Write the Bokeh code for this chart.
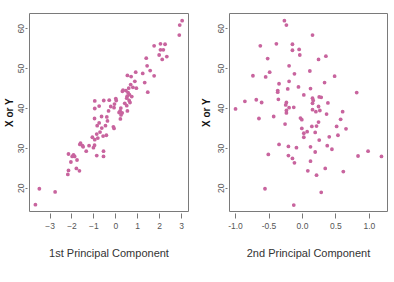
from bokeh.plotting import figure
from bokeh.layouts import row
from bokeh.models import FixedTicker, PrintfTickFormatter, Range1d
from bokeh.embed import file_html
from bokeh.resources import INLINE

pc1 = [3.03, 2.92, 2.90, 1.75, 2.04, 2.25, 2.04, 2.17, 1.98, 2.12, 2.33, 1.39, 1.43, 1.57, 1.23, 1.75,
       0.91, 0.53, 0.70, 1.32, 1.46, 0.87, 0.68, 0.78, 0.59, 0.94, 0.33, 0.46, 0.30, 0.56, 0.62, 0.52,
       0.73, 0.50, 0.61, 0.65, 0.41, 0.00, 0.02, -0.06, -0.23, -0.30, -0.55, -0.96, -0.76, -0.08, 0.23,
       0.20, 0.15, 0.29, 0.24, 0.21, 0.53, 0.50, -0.96, -0.97, -0.65, -0.33, -0.41, -0.38, -0.76, -0.47,
       -0.85, -0.64, -0.72, -0.58, -0.43, -0.11, -0.08, -0.87, -1.07, -0.82, -0.96, -1.61, -1.52, -1.64,
       -1.49, -1.35, -1.22, -1.02, -0.97, -0.87, -0.56, -0.56, -2.16, -1.93, -1.88, -1.99, -2.05, -1.77,
       -1.80, -1.66, -2.16, -2.19, -3.49, -2.77, -3.67]
y1 = [62.0, 60.9, 58.4, 55.7, 56.2, 56.1, 54.7, 54.7, 53.4, 52.3, 53.0, 52.6, 50.7, 49.5, 48.8, 48.2,
      49.1, 48.3, 48.0, 46.5, 44.1, 46.8, 46.0, 45.3, 45.1, 45.1, 44.6, 44.5, 44.3, 44.0, 43.5, 43.1,
      43.0, 42.6, 42.0, 41.5, 41.3, 42.5, 42.0, 41.1, 40.5, 42.1, 42.0, 41.9, 40.6, 40.2, 40.1,
      39.4, 39.0, 38.9, 38.4, 37.4, 39.4, 40.7, 40.0, 37.5, 38.0, 39.4, 37.9, 36.9, 36.4, 35.7,
      35.7, 35.1, 34.1, 33.1, 33.3, 35.4, 35.0, 33.6, 32.8, 32.6, 32.2, 31.3, 30.7, 31.0,
      30.4, 29.3, 30.7, 30.2, 30.8, 28.2, 29.3, 28.0, 28.6, 28.4, 28.0, 28.0, 26.6, 27.1,
      25.0, 24.4, 24.5, 23.5, 19.9, 19.1, 15.9]

pc2 = [-0.27, -0.24, 0.15, -0.63, -0.39, -0.15, -0.05, -0.15, -0.04, 0.35, 0.24, -0.52, -0.20, -0.49,
       0.11, -0.12, -0.74, -0.55, 0.48, -0.20, -0.35, 0.33, -0.06, -0.22, 0.12, -0.37, -0.37, 0.81, 0.02,
       0.25, 0.28, 0.15, 0.16, -0.36, -0.69, -0.61, -0.86, -0.24, -0.25, 0.15, 0.38, 0.24, -0.13, -0.20,
       -1.00, -0.24, -0.24, 0.15, 0.20, 0.26, 0.60, 0.36, -0.43, -0.65, -0.03, -0.01, 0.57, 0.24, 0.21,
       0.14, -0.26, -0.01, 0.51, 0.65, 0.07, 0.02, 0.19, 0.02, 0.40, 0.53, 0.25, -0.35, -0.21, -0.09,
       0.12, 0.37, 0.44, 0.19, -0.51, -0.21, -0.15, -0.12, 0.12, 0.34, 0.08, 0.21, 0.61, 0.83, 0.98,
       1.18, -0.56, 0.28, -0.13]
y2 = [62.0, 60.9, 58.4, 55.7, 56.2, 56.1, 54.8, 54.6, 53.4, 53.1, 52.3, 52.5, 50.7, 49.1,
      49.4, 48.7, 48.2, 47.9, 48.1, 46.8, 46.2, 46.5, 45.4, 44.9, 45.0, 44.5, 44.1, 44.0, 43.4,
      42.9, 42.8, 42.6, 42.0, 42.3, 42.2, 41.5, 41.8, 41.5, 40.9, 41.3, 41.4, 40.5, 40.3, 40.2,
      39.9, 39.5, 38.9, 39.7, 39.2, 39.5, 39.2, 38.6, 38.0, 37.5, 37.6, 37.2, 37.3, 36.6, 35.6,
      35.5, 36.1, 35.0, 35.5, 34.9, 34.2, 33.8, 34.0, 32.8, 32.9, 33.3, 32.1, 31.0, 30.5, 30.2,
      30.4, 30.7, 29.8, 29.1, 28.5, 28.2, 27.5, 26.4, 26.8, 25.0, 24.4, 23.3, 24.2, 28.1, 29.3,
      28.0, 19.9, 19.0, 15.8]

x1_ticks = [-3, -2, -1, 0, 1, 2, 3]
x2_ticks = [-1.0, -0.5, 0.0, 0.5, 1.0]
y_ticks = [20, 30, 40, 50, 60]
x1_title = "1st Principal Component"
x2_title = "2nd Principal Component"
y_title = "X or Y"

PT = "#c8649e"
SANS = "Liberation Sans"


def make(xs, ys, xr, xticks, xtitle, left, right, ytitle_standoff, fmt=None):
    p = figure(width=197, height=282, output_backend="svg", toolbar_location=None,
               x_range=Range1d(*xr), y_range=Range1d(14.2, 63.8),
               min_border_left=left, min_border_right=right, min_border_top=13,
               min_border_bottom=71)
    p.scatter(xs, ys, size=3.8, color=PT, line_color=None)
    p.xgrid.visible = False
    p.ygrid.visible = False
    p.outline_line_color = "#7a7a7a"
    p.outline_line_width = 1
    p.background_fill_color = "white"
    p.border_fill_color = "white"
    p.xaxis.ticker = FixedTicker(ticks=xticks)
    p.yaxis.ticker = FixedTicker(ticks=y_ticks)
    if fmt:
        p.xaxis.formatter = PrintfTickFormatter(format=fmt)
    for ax in (p.xaxis[0], p.yaxis[0]):
        ax.axis_line_color = None
        ax.major_tick_line_color = "#777777"
        ax.minor_tick_line_color = None
        ax.major_label_text_color = "#555555"
        ax.major_label_text_font = SANS
        ax.major_label_text_font_size = "8.5px"
    p.xaxis.major_tick_in = -2
    p.xaxis.major_tick_out = 7
    p.xaxis.major_label_standoff = 4
    p.xaxis.axis_label = xtitle
    p.xaxis.axis_label_text_font = SANS
    p.xaxis.axis_label_text_font_size = "11px"
    p.xaxis.axis_label_text_font_style = "normal"
    p.xaxis.axis_label_text_color = "#333333"
    p.xaxis.axis_label_standoff = 15
    p.yaxis.major_tick_in = -2
    p.yaxis.major_tick_out = 4
    p.yaxis.major_label_standoff = 1
    p.yaxis.major_label_orientation = "parallel"
    p.yaxis.axis_label = y_title
    p.yaxis.axis_label_text_font = SANS
    p.yaxis.axis_label_text_font_size = "10px"
    p.yaxis.axis_label_text_font_style = "bold"
    p.yaxis.axis_label_text_color = "#111111"
    p.yaxis.axis_label_standoff = ytitle_standoff
    return p


p1 = make(pc1, y1, (-3.94, 3.32), x1_ticks, x1_title, 29, 9, 1)
p2 = make(pc2, y2, (-1.09, 1.27), x2_ticks, x2_title, 32, 7, 4, fmt="%.1f")

p = row(p1, p2)
open("out.html", "w").write(file_html(p, INLINE))
